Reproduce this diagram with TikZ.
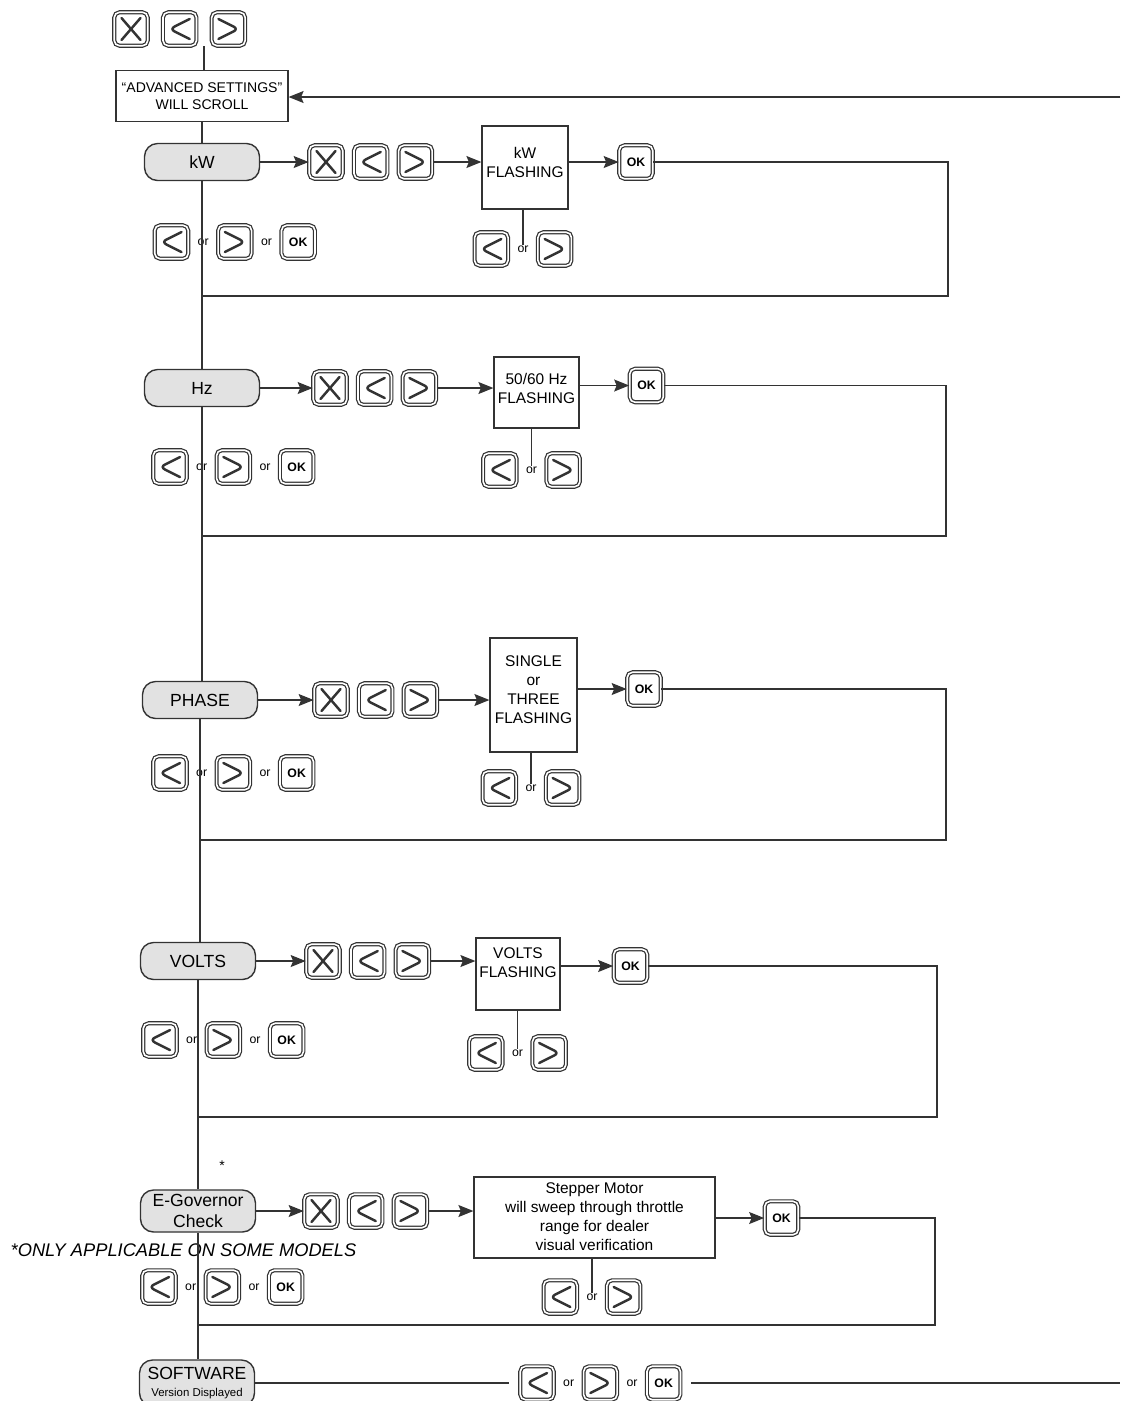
\documentclass[tikz,border=0pt]{standalone}
\usepackage{fontspec}
\setmainfont{Liberation Sans}
\usetikzlibrary{arrows.meta, positioning, calc}
\definecolor{linegray}{HTML}{333333}
\definecolor{pillgray}{HTML}{E2E2E2}

\begin{document}
\begin{tikzpicture}[
    x=0.02cm, y=-0.02cm,
    key/.style={draw=linegray, double=white, double distance=0.9pt, line width=0.7pt, rounded corners=3pt, fill=white, minimum size=0.67cm, inner sep=0pt},
    glyph/.style={draw=linegray, line width=1.4pt, line cap=round, line join=miter},
    keyX/.style={key, path picture={\draw[glyph] (path picture bounding box.center) ++(-0.19cm,-0.22cm) -- ++(0.38cm,0.44cm) ++(-0.38cm,0) -- ++(0.38cm,-0.44cm);}},
    keyL/.style={key, path picture={\draw[glyph] (path picture bounding box.center) ++(0.2cm,0.2cm) -- ++(-0.4cm,-0.2cm) -- ++(0.4cm,-0.2cm);}},
    keyR/.style={key, path picture={\draw[glyph] (path picture bounding box.center) ++(-0.2cm,0.2cm) -- ++(0.4cm,-0.2cm) -- ++(-0.4cm,-0.2cm);}},
    keyOK/.style={key, font=\bfseries\fontsize{7}{8}\selectfont},
    pill/.style={draw=linegray, fill=pillgray, rounded corners=0.26cm, line width=0.8pt, minimum width=2.3cm, minimum height=0.74cm, align=center, inner sep=1pt, font=\fontsize{10}{11.5}\selectfont},
    flashbox/.style={draw=linegray, line width=0.7pt, inner sep=0pt},
    boxtxt/.style={align=center, inner sep=0pt, font=\fontsize{8.8}{10.8}\selectfont},
    ortxt/.style={inner sep=0pt, font=\fontsize{7}{8}\selectfont},
    wire/.style={draw=linegray, line width=0.7pt},
    arrow/.style={wire, -{Stealth[length=3mm, width=2.4mm, inset=0.5mm]}}
]
\useasboundingbox (0,0) rectangle (1131,1401);

\node[keyX] (tx) at (131,29) {};
\node[keyL, right=0.28cm of tx] (tl) {};
\node[keyR, right=0.28cm of tl] (tr) {};
\node[flashbox, minimum width=3.44cm, minimum height=1.02cm, align=center, font=\fontsize{8}{9.6}\selectfont] (adv) at (202,96) {“ADVANCED SETTINGS”\\WILL SCROLL};
\coordinate (tgap) at ($(tl.south east)!0.5!(tr.south west)$);
\coordinate (advin) at (1120,97);
\draw[wire] (tgap) -- (tgap |- adv.north);
\draw[arrow] (advin) -- (advin -| adv.east);

\node[pill] (kw) at (202,162) {kW};
\node[keyX] (kwX) at (326,162) {};
\node[keyL, right=0.2cm of kwX] (kwL) {};
\node[keyR, right=0.2cm of kwL] (kwR) {};
\node[flashbox, minimum width=1.72cm, minimum height=1.66cm] (kwbox) at (525,167.5) {};
\node[boxtxt] (kwtxt) at (525,162) {kW\\FLASHING};
\node[keyOK] (kwok) at (636,162) {OK};
\node[keyL] (kwl1) at (171.5,242) {};
\node[ortxt, right=0.17cm of kwl1] (kwo1) {or};
\node[keyR, right=0.17cm of kwo1] (kwr1) {};
\node[ortxt, right=0.17cm of kwr1] (kwo2) {or};
\node[keyOK, right=0.17cm of kwo2] (kwok1) {OK};
\node[ortxt] (kwo3) at (523,249) {or};
\node[keyL, left=0.17cm of kwo3] (kwl2) {};
\node[keyR, right=0.17cm of kwo3] (kwr2) {};
\coordinate (kwc) at (948,296);
\coordinate (kwj) at (202,296);

\node[pill] (hz) at (202,388) {Hz};
\node[keyX] (hzX) at (330,388) {};
\node[keyL, right=0.2cm of hzX] (hzL) {};
\node[keyR, right=0.2cm of hzL] (hzR) {};
\node[flashbox, minimum width=1.7cm, minimum height=1.42cm] (hzbox) at (536.5,392.5) {};
\node[boxtxt] (hztxt) at (536.5,388) {50/60 Hz\\FLASHING};
\node[keyOK] (hzok) at (646.5,385.5) {OK};
\node[keyL] (hzl1) at (170,467) {};
\node[ortxt, right=0.17cm of hzl1] (hzo1) {or};
\node[keyR, right=0.17cm of hzo1] (hzr1) {};
\node[ortxt, right=0.17cm of hzr1] (hzo2) {or};
\node[keyOK, right=0.17cm of hzo2] (hzok1) {OK};
\node[ortxt] (hzo3) at (531.5,470) {or};
\node[keyL, left=0.17cm of hzo3] (hzl2) {};
\node[keyR, right=0.17cm of hzo3] (hzr2) {};
\coordinate (hzc) at (946,536);
\coordinate (hzj) at (202,536);

\node[pill] (phase) at (200,700) {PHASE};
\node[keyX] (phX) at (331,700) {};
\node[keyL, right=0.2cm of phX] (phL) {};
\node[keyR, right=0.2cm of phL] (phR) {};
\node[flashbox, minimum width=1.74cm, minimum height=2.28cm] (phbox) at (533.5,695) {};
\node[boxtxt] (phtxt) at (533.5,690) {SINGLE\\or\\THREE\\FLASHING};
\node[keyOK] (phok) at (644,689) {OK};
\node[keyL] (phl1) at (170,773) {};
\node[ortxt, right=0.17cm of phl1] (pho1) {or};
\node[keyR, right=0.17cm of pho1] (phr1) {};
\node[ortxt, right=0.17cm of phr1] (pho2) {or};
\node[keyOK, right=0.17cm of pho2] (phok1) {OK};
\node[ortxt] (pho3) at (531,788) {or};
\node[keyL, left=0.17cm of pho3] (phl2) {};
\node[keyR, right=0.17cm of pho3] (phr2) {};
\coordinate (phc) at (946,840);
\coordinate (phj) at (200,840);

\node[pill] (volts) at (198,961) {VOLTS};
\node[keyX] (voX) at (323,961) {};
\node[keyL, right=0.2cm of voX] (voL) {};
\node[keyR, right=0.2cm of voL] (voR) {};
\node[flashbox, minimum width=1.68cm, minimum height=1.44cm] (vobox) at (518,974) {};
\node[boxtxt] (votxt) at (518,963) {VOLTS\\FLASHING};
\node[keyOK] (vook) at (630.5,966) {OK};
\node[keyL] (vol1) at (160,1040) {};
\node[ortxt, right=0.17cm of vol1] (voo1) {or};
\node[keyR, right=0.17cm of voo1] (vor1) {};
\node[ortxt, right=0.17cm of vor1] (voo2) {or};
\node[keyOK, right=0.17cm of voo2] (vook1) {OK};
\node[ortxt] (voo3) at (517.5,1053) {or};
\node[keyL, left=0.17cm of voo3] (vol2) {};
\node[keyR, right=0.17cm of voo3] (vor2) {};
\coordinate (voc) at (937,1117);
\coordinate (voj) at (198,1117);

\node[font=\fontsize{8}{9}\selectfont, inner sep=0pt] (star) at (222,1166) {*};
\node[pill, minimum height=0.84cm] (egov) at (198,1211) {E-Governor\\Check};
\node[keyX] (egX) at (321,1211) {};
\node[keyL, right=0.2cm of egX] (egL) {};
\node[keyR, right=0.2cm of egL] (egR) {};
\node[flashbox, minimum width=4.82cm, minimum height=1.62cm] (egbox) at (594.5,1217.5) {};
\node[boxtxt] (egtxt) at (594.5,1217) {Stepper Motor\\will sweep through throttle\\range for dealer\\visual verification};
\node[keyOK] (egok) at (781.5,1218) {OK};
\node[font=\itshape\fontsize{10.4}{12}\selectfont, inner sep=0pt] (note) at (183.5,1250) {*ONLY APPLICABLE ON SOME MODELS};
\node[keyL] (egl1) at (159,1287) {};
\node[ortxt, right=0.17cm of egl1] (ego1) {or};
\node[keyR, right=0.17cm of ego1] (egr1) {};
\node[ortxt, right=0.17cm of egr1] (ego2) {or};
\node[keyOK, right=0.17cm of ego2] (egok1) {OK};
\node[ortxt] (ego3) at (592,1297) {or};
\node[keyL, left=0.17cm of ego3] (egl2) {};
\node[keyR, right=0.17cm of ego3] (egr2) {};
\coordinate (egc) at (935,1325);
\coordinate (egj) at (198,1325);

\node[pill, minimum height=0.92cm] (sw) at (197,1383) {SOFTWARE\\[-2pt]{\fontsize{6.5}{7}\selectfont Version Displayed}};
\node[keyL] (swl) at (537,1383) {};
\node[ortxt, right=0.17cm of swl] (swo1) {or};
\node[keyR, right=0.17cm of swo1] (swr) {};
\node[ortxt, right=0.17cm of swr] (swo2) {or};
\node[keyOK, right=0.17cm of swo2] (swok) {OK};
\coordinate (swend) at (1120,1383);

\draw[wire] (adv) -- (kw);
\draw[wire] (kw) -- (kwj) -- (kwj |- hz.north);
\draw[wire] (hz) -- (hzj) -- (hzj |- phase.north);
\draw[wire] (phase) -- (phj) -- (phj |- volts.north);
\draw[wire] (volts) -- (voj) -- (voj |- egov.north);
\draw[wire] (egov) -- (egj) -- (egj |- sw.north);

\draw[arrow] (kw) -- (kwX);
\draw[arrow] (kwR) -- (kwR -| kwbox.west);
\draw[arrow] (kwok -| kwbox.east) -- (kwok);
\draw[wire] (kwok) -| (kwc) -- (kwj);
\draw[wire] (kwo3.north |- kwbox.south) -- (kwo3.north);

\draw[arrow] (hz) -- (hzX);
\draw[arrow] (hzR) -- (hzR -| hzbox.west);
\draw[arrow] (hzok -| hzbox.east) -- (hzok);
\draw[wire] (hzok) -| (hzc) -- (hzj);
\draw[wire] (hzo3.north |- hzbox.south) -- (hzo3.north);

\draw[arrow] (phase) -- (phX);
\draw[arrow] (phR) -- (phR -| phbox.west);
\draw[arrow] (phok -| phbox.east) -- (phok);
\draw[wire] (phok) -| (phc) -- (phj);
\draw[wire] (pho3.north |- phbox.south) -- (pho3.north);

\draw[arrow] (volts) -- (voX);
\draw[arrow] (voR) -- (voR -| vobox.west);
\draw[arrow] (vook -| vobox.east) -- (vook);
\draw[wire] (vook) -| (voc) -- (voj);
\draw[wire] (voo3.north |- vobox.south) -- (voo3.north);

\draw[arrow] (egov) -- (egX);
\draw[arrow] (egR) -- (egR -| egbox.west);
\draw[arrow] (egok -| egbox.east) -- (egok);
\draw[wire] (egok) -| (egc) -- (egj);
\draw[wire] (ego3.north |- egbox.south) -- (ego3.north);

\draw[wire, shorten >=0.22cm] (sw) -- (swl);
\draw[wire, shorten <=0.2cm] (swok) -- (swend);
\end{tikzpicture}
\end{document}
